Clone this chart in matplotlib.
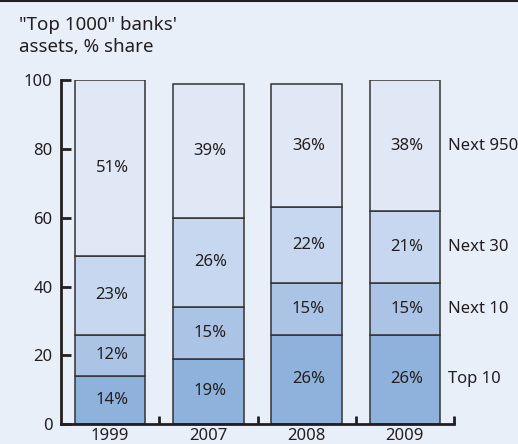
import matplotlib
matplotlib.use("Agg")
import matplotlib.pyplot as plt
import numpy as np

plt.rcParams['font.family'] = ['Noto Sans', 'DejaVu Sans']

years = ["1999", "2007", "2008", "2009"]
groups = ["Top 10", "Next 10", "Next 30", "Next 950"]
top10 = [14, 19, 26, 26]
next10 = [12, 15, 15, 15]
next30 = [23, 26, 22, 21]
next950 = [51, 39, 36, 38]
series = [top10, next10, next30, next950]
colors = ["#8fb2dc", "#abc4e6", "#c6d7ef", "#e0e7f5"]
yticks = [0, 20, 40, 60, 80, 100]

bg = "#e8eff8"
ink = "#231f20"
fs = 12

fig = plt.figure(figsize=(5.18, 4.44), dpi=100, facecolor=bg)
ax = fig.add_axes([61 / 518, 20 / 444, 393 / 518, 343.7 / 444])
ax.set_facecolor(bg)

x = np.arange(len(years))
bottom = np.zeros(len(years))
for vals, col in zip(series, colors):
    vals = np.array(vals, dtype=float)
    ax.bar(x, vals, width=0.72, bottom=bottom, color=col,
           edgecolor="#333333", linewidth=1.1, zorder=2)
    for xi, b, v in zip(x, bottom, vals):
        ax.text(xi + 0.02, b + v / 2, f"{int(v)}%", ha="center", va="center",
                fontsize=fs, color=ink, zorder=3)
    bottom += vals

# Series names beside the last bar, at the centre of each of its segments
last_bottom = 0.0
for name, vals in zip(groups, series):
    v = vals[-1]
    ax.text(3.44, last_bottom + v / 2, name, ha="left", va="center",
            fontsize=fs, color=ink, clip_on=False)
    last_bottom += v

ax.set_xlim(-0.5, 3.5)
ax.set_ylim(0, 100)

for s in ("top", "right"):
    ax.spines[s].set_visible(False)
for s in ("left", "bottom"):
    ax.spines[s].set_linewidth(2.0)
    ax.spines[s].set_color(ink)
    ax.spines[s].set_capstyle("projecting")

ax.set_yticks(yticks)
ax.set_yticklabels([str(t) for t in yticks])
ax.tick_params(axis="y", direction="in", length=7, width=2.0, color=ink,
               labelsize=fs, labelcolor=ink, pad=6)

ax.set_xticks(x)
ax.set_xticklabels(years)
ax.tick_params(axis="x", which="major", length=0, labelsize=fs,
               labelcolor=ink, pad=3)
ax.set_xticks([0.5, 1.5, 2.5, 3.5], minor=True)
ax.tick_params(axis="x", which="minor", direction="in", length=6, width=2.0,
               color=ink)

fig.text(19 / 518, 1 - 16 / 444, "\"Top 1000\" banks'\nassets, % share",
         ha="left", va="top", fontsize=13.5, color=ink, linespacing=1.3)

# thin dark rule along the top edge
fig.add_artist(plt.Line2D([0, 1], [1 - 1 / 444, 1 - 1 / 444],
                          transform=fig.transFigure, color=ink, linewidth=1.5))

fig.savefig("out.png", dpi=100, facecolor=bg)
